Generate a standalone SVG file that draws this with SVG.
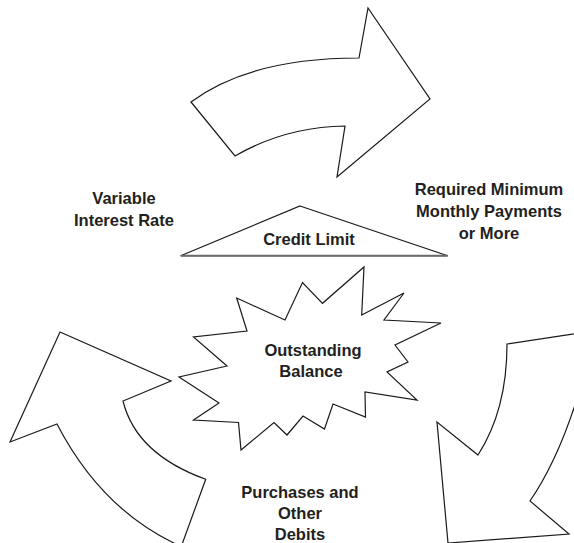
<svg xmlns="http://www.w3.org/2000/svg" width="574" height="543" viewBox="0 0 574 543">
<style>
.shape{fill:#fff;stroke:#1a1a1a;stroke-width:1.2;stroke-linejoin:miter}
.lbl{font-family:"Liberation Sans",Arial,sans-serif;font-weight:bold;font-size:16.5px;fill:#231f20;text-anchor:middle}
</style>
<rect width="574" height="543" fill="#fff"/>
<g id="connectors">
<path id="arrow-top" class="shape" d="M191,102 Q250,58 359,58 L368,8 L430,99 L337,177 L345,126 Q285,127 235,156 Z"/>
<path id="arrow-right" class="shape" d="M507,344 L600,330 L600,360 L588,360 Q565,450 530,501 L569,534 L448,543 L437,422 L478,455 Q507,410 507,344 Z"/>
<path id="arrow-left" class="shape" d="M10,442 L60,332 L171,381 L123,401 Q136,454 205.7,479.3 L180,550 L187,550 L173.3,542.7 Q100,507 57,424 Z"/>
</g>
<g id="node-credit-limit">
<polygon class="shape" points="300,206 447.7,255.7 180.7,255.7"/>
<line x1="180.7" y1="255.7" x2="447.7" y2="255.7" stroke="#6b6b6b" stroke-width="2"/>
<text class="lbl" x="309" y="245">Credit Limit</text>
</g>
<g id="node-outstanding-balance">
<polygon class="shape" points="364,267 361.7,315 404,293 384,320 441,323 395,345 408,362 387,372 417,400 365,392 365.5,417 333,404 324.5,429 303,416 287,435 274,422.5 241,450 238.5,422.5 193.5,420 219,403 179,377 227,366 193.5,337 247,331 236.7,298 285,320 302.5,282.5 322.5,303.3"/>
<text class="lbl" x="313" y="356">Outstanding</text>
<text class="lbl" x="311" y="377">Balance</text>
</g>
<g id="label-variable">
<text class="lbl" x="124" y="204">Variable</text>
<text class="lbl" x="124" y="225.5">Interest Rate</text>
</g>
<g id="label-required">
<text class="lbl" x="489" y="195">Required Minimum</text>
<text class="lbl" x="489" y="216.5">Monthly Payments</text>
<text class="lbl" x="489" y="238.5">or More</text>
</g>
<g id="label-purchases">
<text class="lbl" x="300" y="498">Purchases and</text>
<text class="lbl" x="300" y="519">Other</text>
<text class="lbl" x="300" y="539.5">Debits</text>
</g>
</svg>
